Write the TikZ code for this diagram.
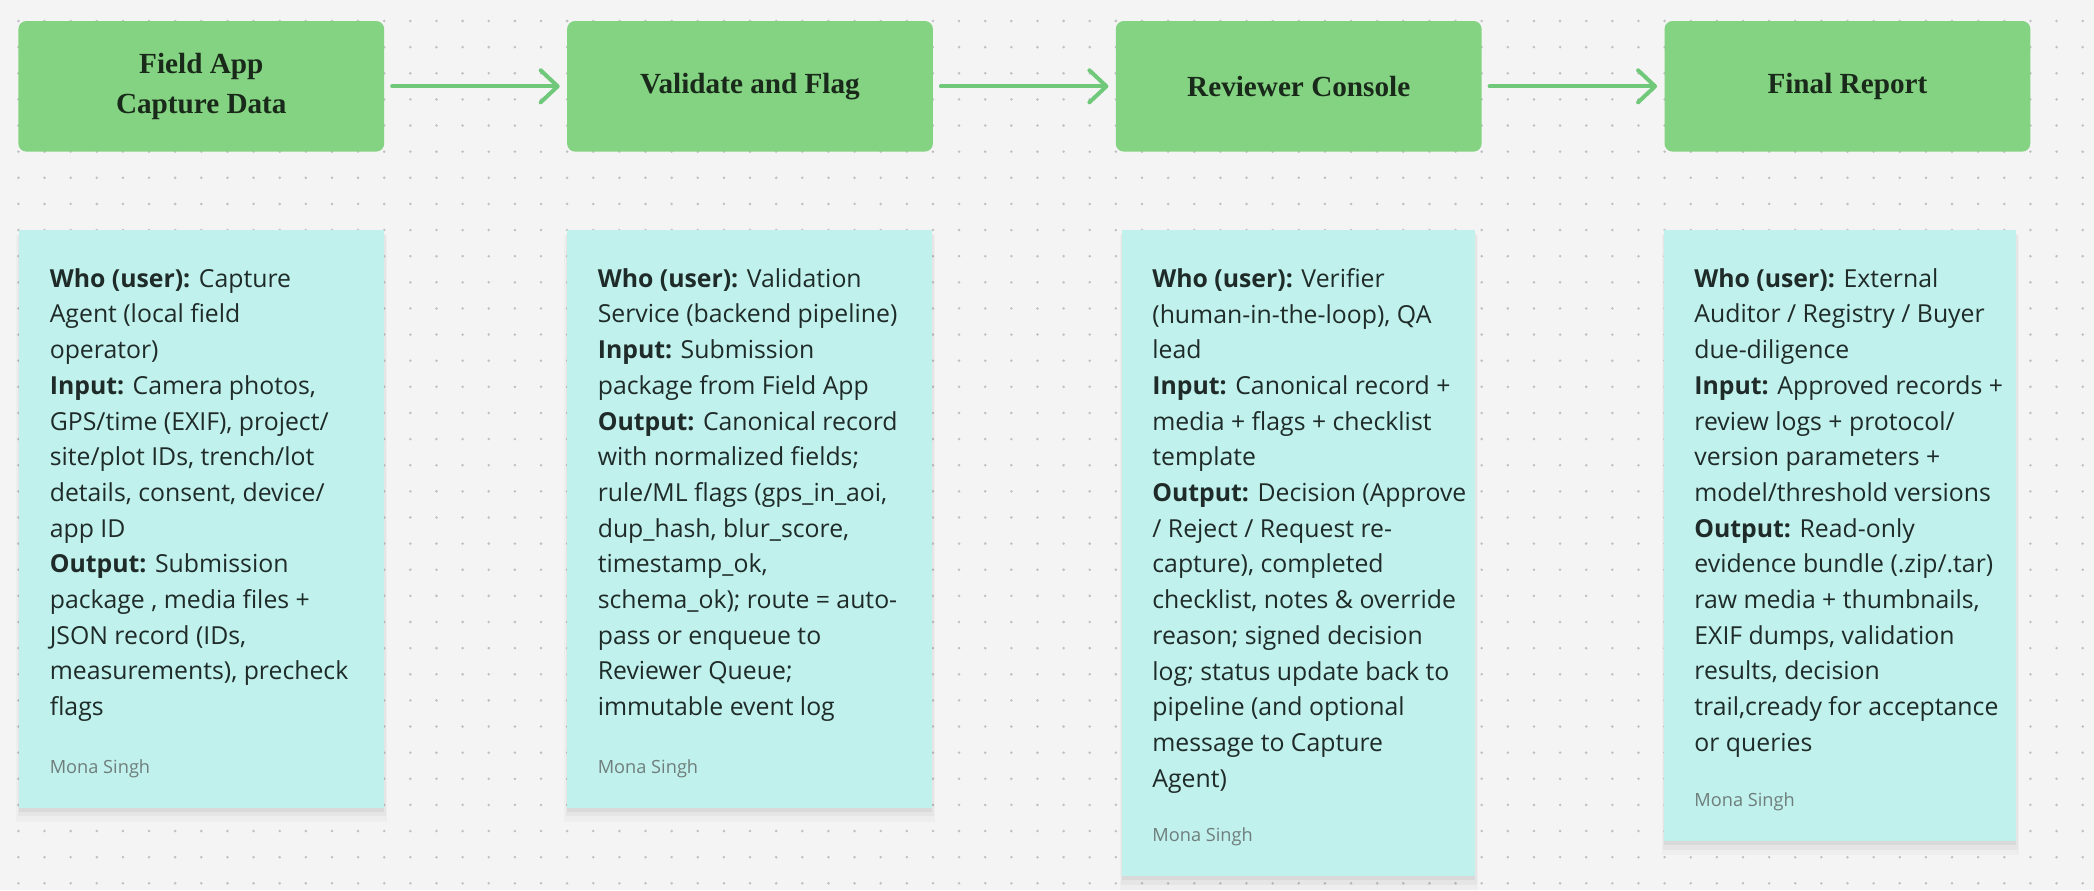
\documentclass[tikz,border=0pt]{standalone}
\usepackage{fontspec}
\setmainfont{Open Sans}
\newfontfamily\titlefont{Liberation Serif}
\usetikzlibrary{positioning,arrows.meta,shadows}

\definecolor{canvas}{HTML}{F4F4F4}
\definecolor{griddot}{HTML}{C0C0C0}
\definecolor{stagegreen}{HTML}{84D382}
\definecolor{flowgreen}{HTML}{70C97A}
\definecolor{notecyan}{HTML}{C0F1EC}
\definecolor{ink}{HTML}{1F2B29}
\definecolor{titleink}{HTML}{1A2A1A}
\definecolor{signgray}{HTML}{6F7E7C}

\begin{document}
\begin{tikzpicture}
[
    x=0.5pt, y=-0.5pt,
    >={Straight Barb[length=8.5pt, width=16pt, round]},
    stage/.style={shape=rectangle, rounded corners=4pt, fill=stagegreen, minimum width=182.9pt, minimum height=65.3pt, align=center, text=titleink, font=\titlefont\bfseries\fontsize{14.6}{19.85}\selectfont},
    note/.style={shape=rectangle, anchor=north west, fill=notecyan, inner sep=0pt, minimum width=182.8pt,
        general shadow={shadow yshift=-4.5pt, shadow scale=1.014, fill=black, opacity=.025},
        general shadow={shadow yshift=-3pt, shadow scale=1.007, fill=black, opacity=.035},
        general shadow={shadow yshift=-1.6pt, fill=black, opacity=.05}},
    notetext/.style={inner sep=0pt, align=left, text=ink, font=\fontsize{12.4}{17.85}\selectfont},
    sign/.style={inner sep=0pt, text=signgray, font=\fontsize{9.1}{11}\selectfont},
    flow/.style={line width=2pt, draw=flowgreen, line cap=round, shorten <=3.8pt, shorten >=3.5pt},
]

\fill[canvas] (0,0) rectangle (2094,890);
\useasboundingbox (0,0) rectangle (2094,890);
\foreach \col in {0,...,79}
  \foreach \row in {0,...,33}
    \fill[griddot] ({18.4+26.13*\col},{21+26.13*\row}) circle (0.7pt);

\node(fieldapp) at (201.3,86.3) [stage]{Field App\\Capture Data};
\node(validate) at (750,86.3) [stage]{Validate and Flag};
\node(reviewer) at (1298.7,86.3) [stage]{Reviewer Console};
\node(report) at (1847.4,86.3) [stage]{Final Report};
\draw[->, flow] (fieldapp) to (validate);
\draw[->, flow] (validate) to (reviewer);
\draw[->, flow] (reviewer) to (report);

\node(fieldnote) at (18.4,230) [note, minimum height=289pt]{};
\node(fieldtext) [notetext, below right=19pt and 15.5pt of fieldnote.north west]{\textbf{Who (user):} Capture\\
Agent (local field\\
operator)\\
\textbf{Input:} Camera photos,\\
GPS/time (EXIF), project/\\
site/plot IDs, trench/lot\\
details, consent, device/\\
app ID\\
\textbf{Output:} Submission\\
package , media files +\\
JSON record (IDs,\\
measurements), precheck\\
flags};
\node(fieldsign) [sign, above right=15.4pt and 15.5pt of fieldnote.south west]{Mona Singh};

\node(validnote) at (566.4,230) [note, minimum height=289pt]{};
\node(validtext) [notetext, below right=19pt and 15.5pt of validnote.north west]{\textbf{Who (user):} Validation\\
Service (backend pipeline)\\
\textbf{Input:} Submission\\
package from Field App\\
\textbf{Output:} Canonical record\\
with normalized fields;\\
rule/ML flags (gps\_in\_aoi,\\
dup\_hash, blur\_score,\\
timestamp\_ok,\\
schema\_ok); route = auto-\\
pass or enqueue to\\
Reviewer Queue;\\
immutable event log};
\node(validsign) [sign, above right=15.4pt and 15.5pt of validnote.south west]{Mona Singh};

\node(reviewnote) at (1122,230) [note, minimum width=176.5pt, minimum height=323pt]{};
\node(reviewtext) [notetext, below right=19pt and 15pt of reviewnote.north west]{\textbf{Who (user):} Verifier\\
(human-in-the-loop), QA\\
lead\\
\textbf{Input:} Canonical record +\\
media + flags + checklist\\
template\\
\textbf{Output:} Decision (Approve\\
/ Reject / Request re-\\
capture), completed\\
checklist, notes \& override\\
reason; signed decision\\
log; status update back to\\
pipeline (and optional\\
message to Capture\\
Agent)};
\node(reviewsign) [sign, above right=15.4pt and 15pt of reviewnote.south west]{Mona Singh};

\node(reportnote) at (1664,230) [note, minimum width=176pt, minimum height=305.5pt]{};
\node(reporttext) [notetext, below right=19pt and 15pt of reportnote.north west]{\textbf{Who (user):} External\\
Auditor / Registry / Buyer\\
due-diligence\\
\textbf{Input:} Approved records +\\
review logs + protocol/\\
version parameters +\\
model/threshold versions\\
\textbf{Output:} Read-only\\
evidence bundle (.zip/.tar)\\
raw media + thumbnails,\\
EXIF dumps, validation\\
results, decision\\
trail,cready for acceptance\\
or queries};
\node(reportsign) [sign, above right=15.4pt and 15pt of reportnote.south west]{Mona Singh};

\end{tikzpicture}
\end{document}
